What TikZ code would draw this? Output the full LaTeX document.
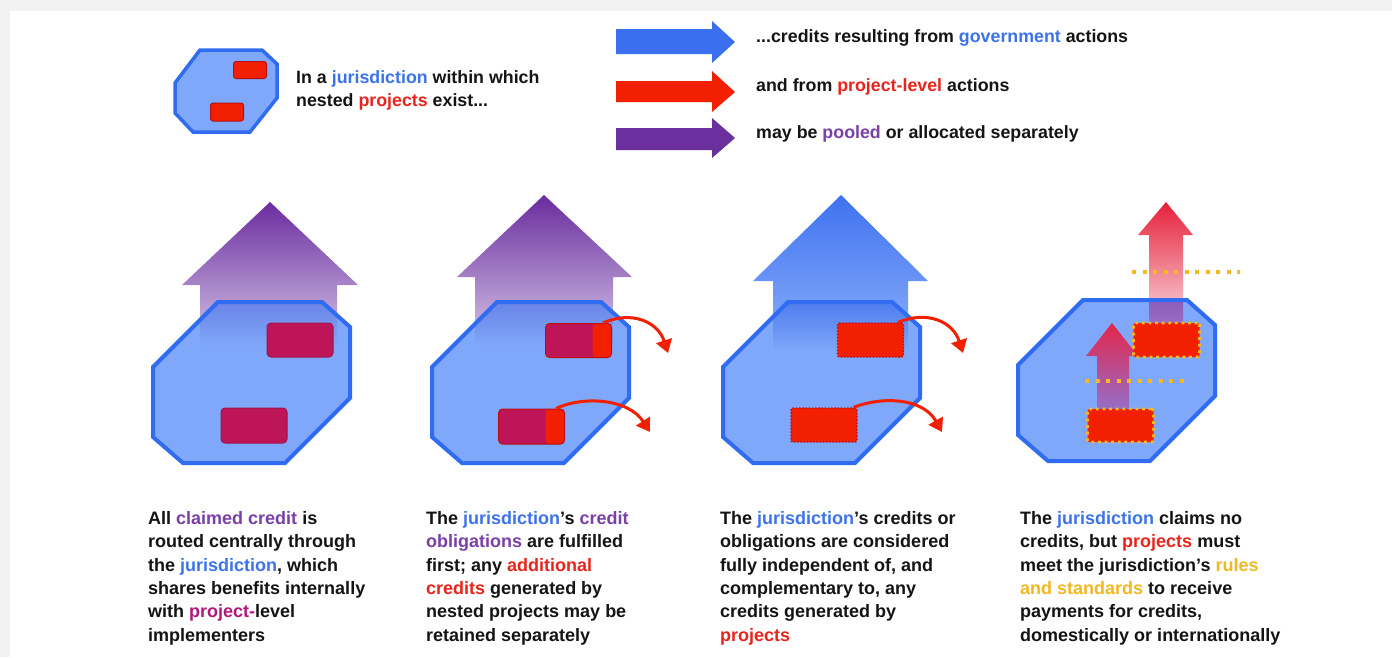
\documentclass[tikz,border=0pt]{standalone}
\usepackage{fontspec}
\setmainfont{Liberation Sans}
\usetikzlibrary{arrows.meta}
\definecolor{bggrey}{HTML}{F1F2F1}
\definecolor{octfill}{HTML}{80A8FA}
\definecolor{octline}{HTML}{2F6CF2}
\definecolor{projred}{HTML}{F22000}
\definecolor{projdark}{HTML}{B81010}
\definecolor{crimson}{HTML}{BE1558}
\definecolor{txtblack}{HTML}{141414}
\definecolor{txtblue}{HTML}{3C74E8}
\definecolor{txtpurple}{HTML}{7B3FA8}
\definecolor{txtred}{HTML}{E8241C}
\definecolor{txtmag}{HTML}{B0187A}
\definecolor{txtyellow}{HTML}{F2B822}
\definecolor{dotyellow}{HTML}{F5B921}
\definecolor{arrblue}{HTML}{3A70F0}
\definecolor{arrred}{HTML}{F21F00}
\definecolor{arrpurple}{HTML}{6B2F9E}
\definecolor{purpTop}{HTML}{6A2C9E}
\definecolor{purpBot}{HTML}{D9CBEA}
\definecolor{purpIn}{HTML}{6A84E6}
\definecolor{blueTop}{HTML}{3F72F0}
\definecolor{blueBot}{HTML}{8CB0FA}
\definecolor{blueIn}{HTML}{4F7DEE}
\definecolor{redTop}{HTML}{E6203A}
\definecolor{redBot}{HTML}{F6B4BE}
\definecolor{mixTop}{HTML}{8E5CB8}
\definecolor{mixBot}{HTML}{9A6EC8}
\definecolor{lowTop}{HTML}{E3264A}
\definecolor{lowBot}{HTML}{9470CC}
\begin{document}
\begin{tikzpicture}[x=1pt,y=-1pt,
  octp/.style={insert path={(65,0) -- (169,0) -- (197,25) -- (197,96) -- (132,161) -- (30,161) -- (0,135) -- (0,65) -- cycle}},
  octline/.style={draw=octline, line width=4pt, line join=miter},
  prj/.style={minimum width=66pt, minimum height=34pt, rounded corners=4pt, inner sep=0pt, line width=1pt},
  crim/.style={prj, fill=crimson, draw=crimson!85!black},
  mix/.style={prj, fill=crimson, draw=projdark,
    path picture={\fill[projred] ([xshift=-19pt]path picture bounding box.north east) rectangle (path picture bounding box.south east);}},
  redbox/.style={prj, fill=projred, draw=projdark, line width=1.4pt, dash pattern=on 1.6pt off 1.6pt, rounded corners=2pt},
  yellowbox/.style={prj, fill=projred, draw=dotyellow, line width=2.8pt, dash pattern=on 2.8pt off 3.8pt, rounded corners=2pt},
  curv/.style={draw=arrred, line width=3pt, -{Triangle[length=13pt,width=16pt]}},
  ydots/.style={draw=dotyellow, line width=4pt, dash pattern=on 4pt off 6.5pt},
  txt/.style={font=\fontsize{18}{23.4}\selectfont\bfseries, text=txtblack, align=left, inner sep=0pt, anchor=north west},
  ltxt/.style={font=\fontsize{17.8}{23}\selectfont\bfseries, text=txtblack, align=left, inner sep=0pt}
]
\useasboundingbox (0,0) rectangle (1392,657);
\fill[bggrey] (0,0) rectangle (1392,657);
\fill[white] (10,11) rectangle (1392,657);

% ---------- legend ----------
\begin{scope}[shift={(175,50)}]
\draw[fill=octfill, draw=octline, line width=3.5pt, line join=miter]
  (25,0) -- (87,0) -- (102,14) -- (102,48) -- (75,82) -- (18,82) -- (0,63) -- (0,33) -- cycle;
\node[prj, fill=projred, draw=projdark, minimum width=33pt, minimum height=17pt, rounded corners=2.5pt] (lp1) at (75,20) {};
\node[prj, fill=projred, draw=projdark, minimum width=33pt, minimum height=18pt, rounded corners=2.5pt] (lp2) at (52,62) {};
\end{scope}
\node[ltxt, anchor=north west] (ltext) at (296,70) {In a \textcolor{txtblue}{jurisdiction} within which\\nested \textcolor{txtred}{projects} exist...};

\fill[arrblue] (616,29) -- (712,29) -- (712,21) -- (735,42) -- (712,63) -- (712,54) -- (616,54) -- cycle;
\fill[arrred] (616,81) -- (712,81) -- (712,71) -- (735,92) -- (712,112) -- (712,102) -- (616,102) -- cycle;
\fill[arrpurple] (616,128) -- (712,128) -- (712,118) -- (735,138) -- (712,158) -- (712,150) -- (616,150) -- cycle;
\node[ltxt, anchor=base west] (lg1) at (756,42) {...credits resulting from \textcolor{txtblue}{government} actions};
\node[ltxt, anchor=base west] (lg2) at (756,91) {and from \textcolor{txtred}{project-level} actions};
\node[ltxt, anchor=base west] (lg3) at (756,138) {may be \textcolor{txtpurple}{pooled} or allocated separately};

% ---------- panel 1 ----------
\begin{scope}[shift={(153,302)}]
\shade[top color=purpTop, bottom color=purpBot] (47,48) -- (47,-17) -- (29,-17) -- (117,-100) -- (205,-17) -- (184,-17) -- (184,48) -- cycle;
\fill[octfill, octp];
\begin{scope}
\path[clip, octp];
\shade[top color=purpIn, bottom color=octfill] (47,0) rectangle (184,45);
\end{scope}
\path[octline, octp];
\node[crim] (p1a) at (147,38) {};
\node[crim, minimum height=35pt] (p1b) at (101,123.5) {};
\end{scope}

% ---------- panel 2 ----------
\begin{scope}[shift={(432,302)}]
\shade[top color=purpTop, bottom color=purpBot] (43,48) -- (43,-25) -- (25,-25) -- (112,-107) -- (200,-25) -- (181,-25) -- (181,48) -- cycle;
\fill[octfill, octp];
\begin{scope}
\path[clip, octp];
\shade[top color=purpIn, bottom color=octfill] (43,0) rectangle (181,45);
\end{scope}
\path[octline, octp];
\node[mix] (p2a) at (146.5,38.5) {};
\node[mix, minimum height=35pt] (p2b) at (99.5,124.5) {};
\coordinate (e2a) at (236,51);
\coordinate (e2b) at (218,130);
\draw[curv] ([xshift=-9pt]p2a.north east) .. controls (200,8) and (226,20) .. (e2a);
\draw[curv] ([xshift=-9pt]p2b.north east) .. controls (150,94) and (196,96) .. (e2b);
\end{scope}

% ---------- panel 3 ----------
\begin{scope}[shift={(723,302)}]
\shade[top color=blueTop, bottom color=blueBot] (50,48) -- (50,-21) -- (30,-21) -- (118,-107) -- (205,-21) -- (185,-21) -- (185,48) -- cycle;
\fill[octfill, octp];
\begin{scope}
\path[clip, octp];
\shade[top color=blueIn, bottom color=octfill] (50,0) rectangle (185,50);
\end{scope}
\path[octline, octp];
\node[redbox] (p3a) at (147.5,38) {};
\node[redbox] (p3b) at (101,123) {};
\coordinate (e3a) at (240,51);
\coordinate (e3b) at (219,130);
\draw[curv] ([xshift=-6pt]p3a.north east) .. controls (205,8) and (230,20) .. (e3a);
\draw[curv] ([xshift=-4pt]p3b.north east) .. controls (160,94) and (200,96) .. (e3b);
\end{scope}

% ---------- panel 4 ----------
\begin{scope}[shift={(1018,300)}]
\shade[top color=redTop, bottom color=redBot] (131,0) -- (131,-65) -- (120,-65) -- (148,-98) -- (175,-65) -- (165,-65) -- (165,0) -- cycle;
\fill[octfill, octp];
\shade[top color=mixTop, bottom color=mixBot] (131,0) rectangle (165,25);
\path[octline, octp];
\shade[top color=lowTop, bottom color=lowBot] (79,111) -- (79,56) -- (68,56) -- (94,23) -- (120,56) -- (111,56) -- (111,111) -- cycle;
\node[yellowbox] (p4a) at (148.5,40) {};
\node[yellowbox, minimum height=33pt] (p4b) at (102.5,125.5) {};
\draw[ydots] (114,-28) -- (222,-28);
\draw[ydots] (67,81) -- (172,81);
\end{scope}

% ---------- captions ----------
\node[txt] (t1) at (148,511) {All \textcolor{txtpurple}{claimed credit} is\\routed centrally through\\the \textcolor{txtblue}{jurisdiction}, which\\shares benefits internally\\with \textcolor{txtmag}{project-}level\\implementers};
\node[txt] (t2) at (426,511) {The \textcolor{txtblue}{jurisdiction}’s \textcolor{txtpurple}{credit}\\\textcolor{txtpurple}{obligations} are fulfilled\\first; any \textcolor{txtred}{additional}\\\textcolor{txtred}{credits} generated by\\nested projects may be\\retained separately};
\node[txt] (t3) at (720,511) {The \textcolor{txtblue}{jurisdiction}’s credits or\\obligations are considered\\fully independent of, and\\complementary to, any\\credits generated by\\\textcolor{txtred}{projects}};
\node[txt] (t4) at (1020,511) {The \textcolor{txtblue}{jurisdiction} claims no\\credits, but \textcolor{txtred}{projects} must\\meet the jurisdiction’s \textcolor{txtyellow}{rules}\\\textcolor{txtyellow}{and standards} to receive\\payments for credits,\\domestically or internationally};
\end{tikzpicture}
\end{document}
